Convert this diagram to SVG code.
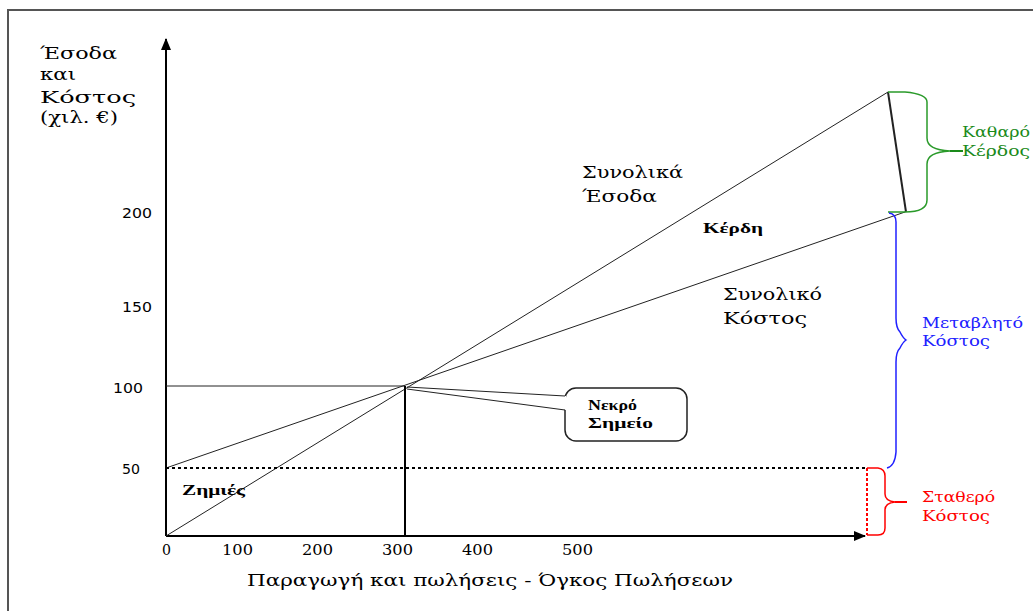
<svg xmlns="http://www.w3.org/2000/svg" width="1033" height="611" viewBox="0 0 1033 611">
<style>
.t{font-family:"DejaVu Serif","Liberation Serif",serif;font-size:17px;fill:#000}
.g{font-family:"DejaVu Serif","Liberation Serif",serif;font-size:15px}
.n{font-family:"DejaVu Sans","Liberation Sans",sans-serif;font-size:14px;fill:#000}
.x{font-family:"DejaVu Serif","Liberation Serif",serif;font-size:14px;fill:#000}
.b{font-family:"Liberation Serif",serif;font-size:15px;font-weight:bold;fill:#000}
.ln{stroke:#222;stroke-width:1;fill:none}
.ax{stroke:#000;stroke-width:2;fill:none}
</style>
<defs>
<marker id="ah" markerWidth="12" markerHeight="10" refX="11" refY="5" orient="auto" markerUnits="userSpaceOnUse">
<path d="M0,0 L12,5 L0,10 Z" fill="#000"/>
</marker>
</defs>
<rect width="1033" height="611" fill="#fff"/>
<path d="M8,611 V10 H1033" stroke="#555" stroke-width="2" fill="none"/>
<g id="connectors">
<line class="ax" x1="166" y1="536" x2="166" y2="39" marker-end="url(#ah)"/>
<line class="ax" x1="166" y1="536" x2="865" y2="536" marker-end="url(#ah)"/>
<line class="ln" x1="166" y1="536" x2="888" y2="92"/>
<line class="ln" x1="166" y1="468" x2="905" y2="212"/>
<line class="ln" x1="166" y1="386" x2="405" y2="386"/>
<line class="ax" x1="405" y1="386" x2="405" y2="536"/>
<line x1="166" y1="468" x2="866" y2="468" stroke="#000" stroke-width="2" stroke-dasharray="3,3"/>
<line x1="888" y1="92" x2="906" y2="212" stroke="#222" stroke-width="2"/>
<line x1="867" y1="468" x2="867" y2="535" stroke="#f00" stroke-width="2" stroke-dasharray="3,2"/>
</g>
<g id="brace-profit">
<path d="M888,92 H905 Q927,94 927,102 V138 Q927,150 950,151 Q927,152 927,164 V200 Q927,212 905,212 H888" stroke="#2a9a2a" stroke-width="1.5" fill="none"/>
<line x1="950" y1="151" x2="963" y2="151" stroke="#1a8a1a" stroke-width="2"/>
<text class="g" x="962" y="137" fill="#1a8a1a" textLength="68" lengthAdjust="spacingAndGlyphs">Καθαρό</text>
<text class="g" x="962" y="156" fill="#1a8a1a" textLength="68" lengthAdjust="spacingAndGlyphs">Κέρδος</text>
</g>
<g id="brace-variable">
<path d="M889,213 Q896,214 896,222 V318 Q896,328 900,332 Q903,338 906,340 Q903,342 900,348 Q896,352 896,362 V452 Q895,466 887,468" stroke="#2020ff" stroke-width="1.5" fill="none"/>
<text class="g" x="922" y="328" fill="#2020ff" textLength="101" lengthAdjust="spacingAndGlyphs">Μεταβλητό</text>
<text class="g" x="922" y="346" fill="#2020ff" textLength="68" lengthAdjust="spacingAndGlyphs">Κόστος</text>
</g>
<g id="brace-fixed">
<path d="M867,468 H878 Q885,469 885,476 V494 Q885,501 895,502 Q885,503 885,510 V528 Q885,535 878,535 H867" stroke="#f00" stroke-width="1.5" fill="none"/>
<line x1="895" y1="502" x2="907" y2="502" stroke="#f00" stroke-width="2"/>
<text class="g" x="922" y="502" fill="#f00" textLength="73" lengthAdjust="spacingAndGlyphs">Σταθερό</text>
<text class="g" x="922" y="521" fill="#f00" textLength="68" lengthAdjust="spacingAndGlyphs">Κόστος</text>
</g>
<g id="callout">
<rect x="565" y="388" width="122" height="53" rx="11" fill="#fff" stroke="#222" stroke-width="1.5"/>
<polygon points="407,388 566,396 566,410" fill="#fff"/>
<line class="ln" x1="407" y1="387" x2="565" y2="396" stroke-width="1.5"/>
<line class="ln" x1="407" y1="389" x2="565" y2="410" stroke-width="1.5"/>
<text class="b" x="588" y="410" textLength="49" lengthAdjust="spacingAndGlyphs">Νεκρό</text>
<text class="b" x="588" y="428" textLength="65" lengthAdjust="spacingAndGlyphs">Σημείο</text>
</g>
<g id="labels">
<text class="t" x="40" y="59" textLength="77" lengthAdjust="spacingAndGlyphs">Έσοδα</text>
<text class="t" x="40" y="80" textLength="36" lengthAdjust="spacingAndGlyphs">και</text>
<text class="t" x="40" y="103" textLength="96" lengthAdjust="spacingAndGlyphs">Κόστος</text>
<text class="t" x="40" y="123" textLength="78" lengthAdjust="spacingAndGlyphs">(χιλ. €)</text>
<text class="t" x="582" y="178" textLength="101" lengthAdjust="spacingAndGlyphs">Συνολικά</text>
<text class="t" x="582" y="202" textLength="75" lengthAdjust="spacingAndGlyphs">Έσοδα</text>
<text class="b" x="703" y="233" textLength="60" lengthAdjust="spacingAndGlyphs">Κέρδη</text>
<text class="t" x="723" y="300" textLength="99" lengthAdjust="spacingAndGlyphs">Συνολικό</text>
<text class="t" x="723" y="324" textLength="84" lengthAdjust="spacingAndGlyphs">Κόστος</text>
<text class="b" x="182" y="495" textLength="63" lengthAdjust="spacingAndGlyphs">Ζημιές</text>
<text class="t" x="247" y="586" textLength="486" lengthAdjust="spacingAndGlyphs">Παραγωγή και πωλήσεις  - Όγκος Πωλήσεων</text>
</g>
<g id="yticks">
<text class="n" x="152" y="218" text-anchor="end" textLength="30" lengthAdjust="spacingAndGlyphs">200</text>
<text class="n" x="152" y="312" text-anchor="end" textLength="30" lengthAdjust="spacingAndGlyphs">150</text>
<text class="n" x="143" y="393" text-anchor="end" textLength="30" lengthAdjust="spacingAndGlyphs">100</text>
<text class="n" x="140" y="474" text-anchor="end" textLength="18" lengthAdjust="spacingAndGlyphs">50</text>
</g>
<g id="xticks">
<text class="x" x="162" y="555" textLength="9" lengthAdjust="spacingAndGlyphs">0</text>
<text class="x" x="222" y="555" textLength="31" lengthAdjust="spacingAndGlyphs">100</text>
<text class="x" x="302" y="555" textLength="31" lengthAdjust="spacingAndGlyphs">200</text>
<text class="x" x="382" y="555" textLength="31" lengthAdjust="spacingAndGlyphs">300</text>
<text class="x" x="462" y="555" textLength="31" lengthAdjust="spacingAndGlyphs">400</text>
<text class="x" x="562" y="555" textLength="31" lengthAdjust="spacingAndGlyphs">500</text>
</g>
</svg>
